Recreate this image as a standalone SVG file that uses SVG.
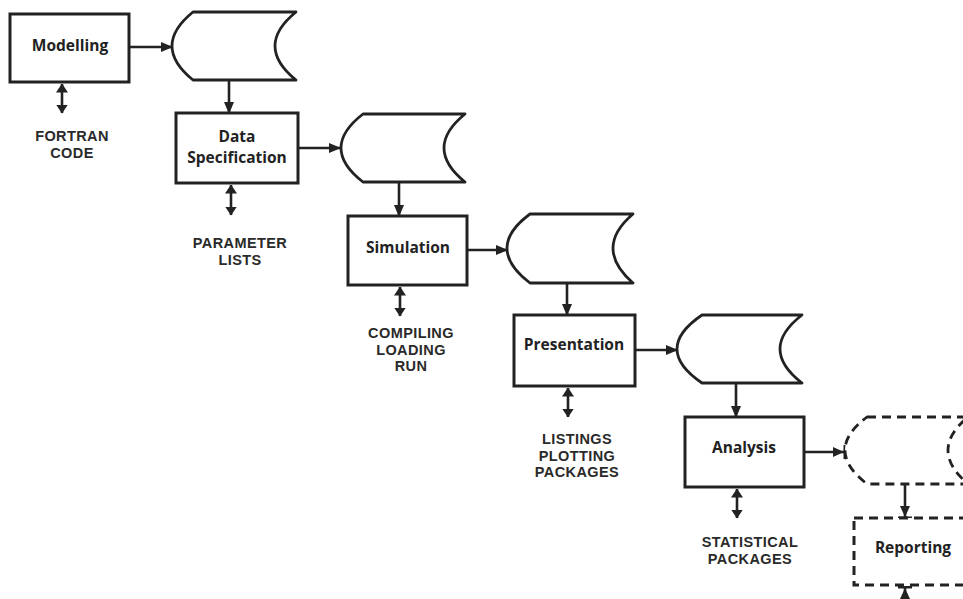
<svg xmlns="http://www.w3.org/2000/svg" width="963" height="599" viewBox="0 0 963 599">
<defs>
<style>
.box{fill:#fff;stroke:#222;stroke-width:3}
.store{fill:#fff;stroke:#222;stroke-width:2.8;stroke-linejoin:round}
.dash{stroke-dasharray:9 6}
.ln{fill:none;stroke:#222;stroke-width:2.6}
.nt{font-family:"Open Sans","DejaVu Sans",sans-serif;font-weight:700;font-size:15.5px;fill:#222;text-anchor:middle}
.lt{font-family:"Liberation Sans","Arial",sans-serif;font-weight:700;font-size:14.5px;letter-spacing:0.4px;fill:#2a2a2a;text-anchor:middle}
</style>
<marker id="ah" markerUnits="userSpaceOnUse" viewBox="0 0 12 12" refX="11" refY="6" markerWidth="12" markerHeight="12" orient="auto-start-reverse">
<path d="M0,1 L12,6 L0,11 Z" fill="#222"/>
</marker>
<marker id="dh" markerUnits="userSpaceOnUse" viewBox="0 0 9 12" refX="8.5" refY="6" markerWidth="9" markerHeight="12" orient="auto-start-reverse">
<path d="M0,0 L9,6 L0,12 Z" fill="#222"/>
</marker>
<marker id="ab" markerUnits="userSpaceOnUse" viewBox="0 0 13 16" refX="12" refY="8" markerWidth="13" markerHeight="16" orient="auto">
<path d="M0,3 L11,8 L0,13 Z" fill="#222"/>
<rect x="10.5" y="1" width="2.5" height="14" fill="#222"/>
</marker>
</defs>
<rect width="963" height="599" fill="#fff"/>

<g id="connectors">
<line class="ln" x1="129" y1="47" x2="172" y2="47" marker-end="url(#ah)"/>
<line class="ln" x1="298" y1="148" x2="340" y2="148" marker-end="url(#ah)"/>
<line class="ln" x1="467" y1="250" x2="507" y2="250" marker-end="url(#ah)"/>
<line class="ln" x1="635" y1="350" x2="677" y2="350" marker-end="url(#ah)"/>
<line class="ln" x1="804" y1="452" x2="845" y2="452" marker-end="url(#ab)"/>

<line class="ln" x1="229" y1="80" x2="229" y2="113" marker-end="url(#ah)"/>
<line class="ln" x1="399" y1="182" x2="399" y2="216" marker-end="url(#ah)"/>
<line class="ln" x1="567" y1="283" x2="567" y2="315" marker-end="url(#ah)"/>
<line class="ln" x1="736" y1="383" x2="736" y2="417" marker-end="url(#ah)"/>
<line class="ln" x1="905" y1="484" x2="905" y2="518" marker-end="url(#ab)"/>

<line class="ln" x1="62" y1="84" x2="62" y2="113" marker-start="url(#dh)" marker-end="url(#dh)"/>
<line class="ln" x1="231" y1="185" x2="231" y2="215" marker-start="url(#dh)" marker-end="url(#dh)"/>
<line class="ln" x1="400" y1="287" x2="400" y2="316" marker-start="url(#dh)" marker-end="url(#dh)"/>
<line class="ln" x1="568" y1="388" x2="568" y2="417" marker-start="url(#dh)" marker-end="url(#dh)"/>
<line class="ln" x1="737" y1="489" x2="737" y2="518" marker-start="url(#dh)" marker-end="url(#dh)"/>
<line class="ln" x1="905" y1="606" x2="905" y2="587" marker-end="url(#ab)"/>
</g>

<g id="modelling">
<rect class="box" x="10" y="14" width="119" height="68"/>
<text class="nt" x="70" y="51">Modelling</text>
</g>
<g id="store1">
<path class="store" d="M193,12 L296,12 Q254,46 296,80 L193,80 Q151,46 193,12 Z"/>
</g>
<g id="fortran">
<text class="lt" x="72" y="141">FORTRAN</text>
<text class="lt" x="72" y="157.5">CODE</text>
</g>

<g id="dataspec">
<rect class="box" x="176" y="113" width="122" height="70"/>
<text class="nt" x="237" y="142">Data</text>
<text class="nt" x="237" y="163">Specification</text>
</g>
<g id="store2">
<path class="store" d="M363,114 L465,114 Q423,148 465,182 L363,182 Q319,148 363,114 Z"/>
</g>
<g id="params">
<text class="lt" x="240" y="248">PARAMETER</text>
<text class="lt" x="240" y="265">LISTS</text>
</g>

<g id="simulation">
<rect class="box" x="348" y="216" width="119" height="69"/>
<text class="nt" x="408" y="253">Simulation</text>
</g>
<g id="store3">
<path class="store" d="M530,214 L633,214 Q593,248 633,283 L530,283 Q484,248 530,214 Z"/>
</g>
<g id="compiling">
<text class="lt" x="411" y="338">COMPILING</text>
<text class="lt" x="411" y="354.5">LOADING</text>
<text class="lt" x="411" y="371">RUN</text>
</g>

<g id="presentation">
<rect class="box" x="514" y="315" width="121" height="71"/>
<text class="nt" x="574" y="350">Presentation</text>
</g>
<g id="store4">
<path class="store" d="M702,315 L802,315 Q758,349 802,383 L702,383 Q652,349 702,315 Z"/>
</g>
<g id="listings">
<text class="lt" x="577" y="444">LISTINGS</text>
<text class="lt" x="577" y="460.5">PLOTTING</text>
<text class="lt" x="577" y="477">PACKAGES</text>
</g>

<g id="analysis">
<rect class="box" x="685" y="417" width="119" height="70"/>
<text class="nt" x="744" y="453">Analysis</text>
</g>
<g id="store5">
<path class="store dash" d="M867,417 L968,417 Q928,450 968,484 L867,484 Q823,450 867,417 Z"/>
</g>
<g id="statistical">
<text class="lt" x="750" y="547">STATISTICAL</text>
<text class="lt" x="750" y="564">PACKAGES</text>
</g>

<g id="reporting">
<rect class="box dash" x="854" y="518" width="119" height="67"/>
<text class="nt" x="913" y="553">Reporting</text>
</g>
</svg>
